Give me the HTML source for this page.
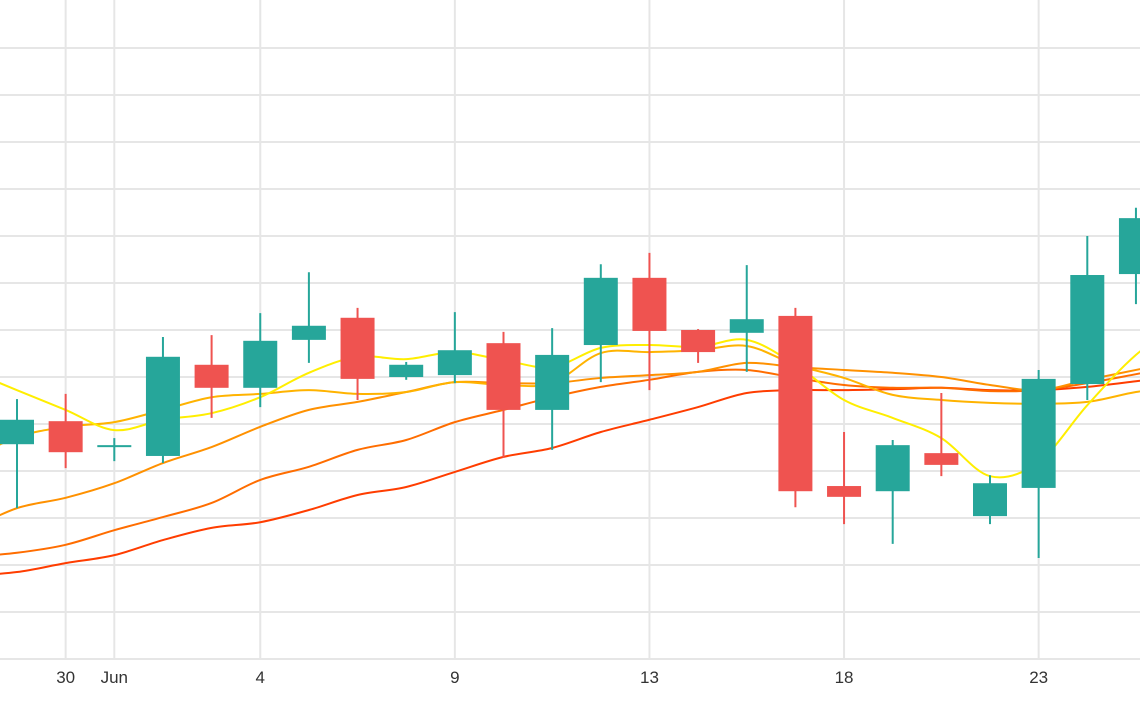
<!DOCTYPE html>
<html><head><meta charset="utf-8"><style>
html,body{margin:0;padding:0;background:#fff;}
svg{display:block;font-family:"Liberation Sans",sans-serif;}
</style></head><body>
<svg id="chart" width="1140" height="710" viewBox="0 0 1140 710" xmlns="http://www.w3.org/2000/svg">
<g id="grid"></g>
<g id="lines"></g>
<g id="candles"></g>
<g id="xaxis"></g>
</svg>
<script>
const openV=[45.7,50.6,45.1,43.2,62.6,57.7,67.9,72.6,60.0,60.4,67.2,53.0,66.8,81.1,70.0,69.4,73.0,36.8,35.7,43.8,30.4,36.4,58.5,81.9];
const highV=[55.3,56.4,47.0,68.5,68.9,73.6,82.3,74.7,63.2,73.8,69.6,70.4,84.0,86.4,70.2,83.8,74.7,48.3,46.6,56.6,39.1,61.5,90.0,96.0];
const lowV=[32.1,40.6,42.1,41.7,51.3,53.6,63.0,55.1,59.4,58.7,42.8,44.5,58.9,57.2,63.0,61.1,32.3,28.7,24.5,38.9,28.7,21.5,55.1,75.5];
const closeV=[50.9,44.0,45.5,64.3,57.7,67.7,70.9,59.6,62.6,65.7,53.0,64.7,81.1,69.8,65.3,72.3,35.7,34.5,45.5,41.3,37.4,59.6,81.7,93.8];
// moving averages, indices -1..24
const ma5=[61.5,57.2,53.0,48.7,50.9,52.3,55.7,60.9,64.3,63.8,65.3,63.6,62.1,66.2,66.8,66.4,67.9,62.6,55.1,51.3,47.0,38.9,41.9,54.0,64.7,72.1];
const ma10=[42.3,47.2,49.4,50.4,53.0,55.7,56.4,57.2,56.4,56.8,58.9,58.3,58.7,65.1,65.3,65.7,66.6,62.6,59.8,56.2,55.1,54.5,54.3,54.7,56.8,58.3];
const ma20=[27.4,32.1,34.3,37.4,41.7,45.1,49.4,53.0,54.7,56.8,58.9,58.7,58.7,59.8,60.4,61.1,63.0,62.1,61.5,60.9,60.0,58.3,57.2,59.4,61.5,63.6];
const ma30=[21.7,22.6,24.3,27.4,30.2,33.2,38.1,40.9,44.5,46.6,50.4,53.0,55.7,57.9,59.4,61.1,61.5,59.8,58.3,57.7,57.7,57.0,57.2,58.7,60.6,62.6];
const ma60=[17.7,18.5,20.4,22.1,25.3,27.9,29.1,31.7,34.9,36.6,39.8,43.0,44.9,48.3,50.9,53.6,56.6,57.2,57.2,57.4,57.7,57.2,57.2,57.9,59.1,60.4];
const tickIdx=[1,2,5,9,13,17,21];
const tickLabels=["30","Jun","4","9","13","18","23"];
const yTicks=[0,10,20,30,40,50,60,70,80,90,100,110,120,130];

const NS="http://www.w3.org/2000/svg";
const xs=i=>17+i*48.65;
const ys=v=>659-v*4.7;
function mk(t,a,p){const e=document.createElementNS(NS,t);for(const k in a)e.setAttribute(k,a[k]);p.appendChild(e);return e;}
const grid=document.getElementById('grid');
yTicks.forEach(v=>{const l=mk('line',{x1:0,x2:1140,y1:ys(v),y2:ys(v),stroke:'#e6e6e6','stroke-width':2},grid);

});
const xa=document.getElementById('xaxis');
tickIdx.forEach((ti,k)=>{const l=mk('line',{x1:xs(ti),x2:xs(ti),y1:0,y2:659,stroke:'#e6e6e6','stroke-width':2},grid);


const t=mk('text',{x:xs(ti),y:683,'text-anchor':'middle','font-size':17,fill:'#333'},xa);
t.textContent=tickLabels[k];

});
const lg=document.getElementById('lines');
function smooth(arr){const p=arr.map((v,i)=>[xs(i-1),ys(v)]);let d='M'+p[0][0]+','+p[0][1];
for(let i=0;i<p.length-1;i++){const p0=p[i-1]||p[i],p1=p[i],p2=p[i+1],p3=p[i+2]||p2;
d+=' C'+(p1[0]+(p2[0]-p0[0])/6)+','+(p1[1]+(p2[1]-p0[1])/6)+' '+(p2[0]-(p3[0]-p1[0])/6)+','+(p2[1]-(p3[1]-p1[1])/6)+' '+p2[0]+','+p2[1];}return d;}
[[ma60,'#ff3d00','ma60-line'],[ma30,'#ff6d00','ma30-line'],[ma20,'#ff9100','ma20-line'],[ma10,'#ffb300','ma10-line'],[ma5,'#ffee00','ma5-line']].forEach(([a,c,n])=>{
const p=mk('path',{d:smooth(a),fill:'none',stroke:c,'stroke-width':2},lg);

});
const cg=document.getElementById('candles');
openV.forEach((o,i)=>{const c=closeV[i],up=c>=o,col=up?'#26a69a':'#ef5350',x=xs(i);
const g=mk('g',{},cg);


mk('line',{x1:x,x2:x,y1:ys(highV[i]),y2:ys(lowV[i]),stroke:col,'stroke-width':2},g);
const top=ys(Math.max(o,c)),bot=ys(Math.min(o,c));
mk('rect',{x:x-17,y:top,width:34,height:Math.max(2,bot-top),fill:col},g);});
</script>
</body></html>
